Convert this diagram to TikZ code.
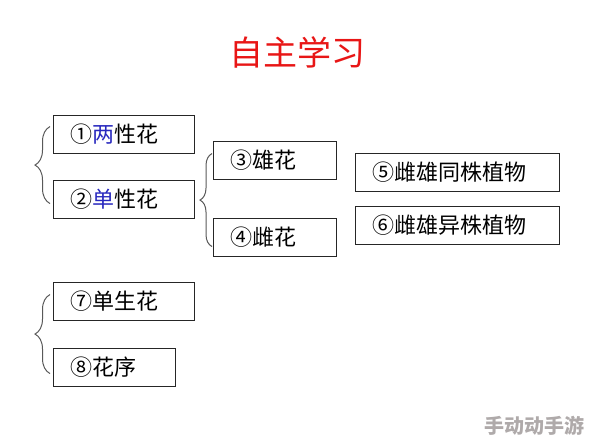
\documentclass[tikz,border=0pt]{standalone}
\usepackage{fontspec}
\newfontfamily\cjk{Noto Sans CJK SC}
\usetikzlibrary{decorations.pathreplacing}

\definecolor{titlered}{RGB}{232,22,22}
\definecolor{keyblue}{RGB}{40,40,190}
\definecolor{markgray}{RGB}{175,170,170}

\begin{document}
\begin{tikzpicture}[x=1pt, y=-1pt,
    box/.style={draw=black!85, line width=1.1pt, anchor=north west, minimum height=38pt,
      inner xsep=17pt, inner ysep=0pt, align=left, font=\cjk\fontsize{22}{26}\selectfont},
    curly/.style={draw=black!65, line width=1pt, decorate, decoration={brace, amplitude=15pt}}]
    \useasboundingbox (0,0) rectangle (594,444);
    % Title
    \node[text=titlered, font=\cjk\fontsize{34}{38}\selectfont] (title) at (297,52) {自主学习};
    % First group
    \node[box, text width=107pt] (liang) at (53,115) {①\textcolor{keyblue}{两}性花};
    \node[box, text width=107pt] (dan) at (53,180) {②\textcolor{keyblue}{单}性花};
    \draw[curly] ([xshift=-3pt,yshift=-4pt]dan.west) -- ([xshift=-3pt,yshift=8pt]liang.west);
    % Second group
    \node[box, text width=89pt] (xiong) at (213,141) {③雄花};
    \node[box, text width=89pt] (ci) at (213,218) {④雌花};
    \draw[curly, decoration={amplitude=12pt}] ([xshift=-1pt,yshift=-9pt]ci.west) -- ([xshift=-1pt,yshift=7pt]xiong.west);
    % Plants
    \node[box, text width=170pt] (tong) at (355,153) {⑤雌雄同株植物};
    \node[box, text width=170pt] (yi) at (355,206) {⑥雌雄异株植物};
    % Third group
    \node[box, text width=107pt] (dansheng) at (53,282) {⑦单生花};
    \node[box, text width=88pt] (huaxu) at (53,348) {⑧花序};
    \draw[curly] ([xshift=-3pt,yshift=-6pt]huaxu.west) -- ([xshift=-3pt,yshift=7pt]dansheng.west);
    % Watermark
    \node[text=markgray, font=\cjk\bfseries\fontsize{20}{22}\selectfont] (mark) at (534,426) {手动动手游};
\end{tikzpicture}
\end{document}
